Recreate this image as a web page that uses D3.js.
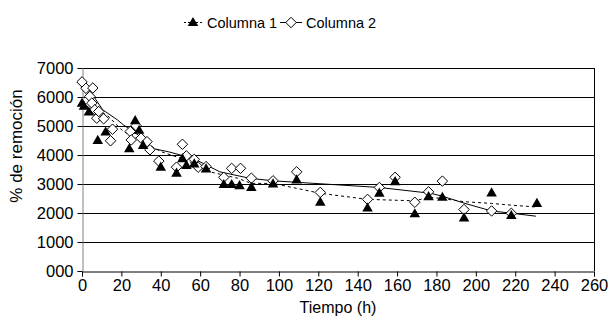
<!DOCTYPE html>
<html>
<head>
<meta charset="utf-8">
<script src="https://cdn.jsdelivr.net/npm/d3@7"></script>
<style>
  body { margin: 0; background: #fff; }
  text { font-family: "Liberation Sans", Arial, sans-serif; fill: #000; }
</style>
</head>
<body>
<div id="chart"></div>
<script>
// Columna 1 (triangulos)
const time1 = [0, 1, 3.5, 8, 12, 24, 27, 29, 31, 40, 48, 51, 53, 57, 63, 72, 76, 80, 86, 97, 109, 121, 145, 151, 159, 169, 176, 183, 194, 208, 218, 231];
const col1 = [5800, 5700, 5500, 4520, 4810, 4230, 5200, 4870, 4350, 3600, 3390, 3890, 3660, 3710, 3540, 3000, 3000, 2960, 2900, 3020, 3160, 2390, 2190, 2700, 3100, 1990, 2580, 2560, 1850, 2710, 1930, 2350];

// Columna 2 (rombos)
const time2 = [0, 2, 4, 5, 5.5, 6.5, 7.5, 8.5, 11, 14.5, 15.5, 24.5, 25, 27.5, 30, 33, 34.5, 39, 48, 51, 53, 57, 59, 63, 72, 76, 80.5, 86, 97, 109, 121, 145, 151, 159, 169, 176, 183, 194, 208, 218];
const col2 = [6520, 6300, 6020, 5790, 6310, 5560, 5270, 5500, 5250, 4490, 4890, 4810, 4520, 5010, 4580, 4460, 4180, 3790, 3580, 4370, 3970, 3850, 3580, 3600, 3230, 3540, 3540, 3200, 3110, 3420, 2710, 2470, 2880, 3230, 2370, 2730, 3100, 2120, 2070, 1990];

// lineas de tendencia
const trendTime1 = [2, 6, 12.5, 21, 28, 40, 50, 65, 79, 86, 97, 121, 145, 169, 176, 183, 194, 208, 218, 230];
const trend1 = [5700, 5550, 5390, 4810, 4580, 4120, 3890, 3420, 3200, 3020, 3020, 2680, 2470, 2420, 2540, 2500, 2390, 2330, 2270, 2210];

const trendTime2 = [3, 10.5, 18, 21, 28.5, 35.5, 44, 50, 58, 70, 85, 97, 151, 177, 183, 194.5, 208, 218.5, 230.5];
const trend2 = [6320, 5560, 5210, 5040, 4690, 4230, 4110, 4000, 3830, 3420, 3200, 3110, 2880, 2680, 2580, 2330, 2070, 1990, 1890];

const xTicks = d3.range(0, 261, 20);
const yTicks = d3.range(0, 7001, 1000);
const yTickLabels = ["000", "1000", "2000", "3000", "4000", "5000", "6000", "7000"];

const width = 614, height = 322;
const margin = { top: 68, right: 20, bottom: 51, left: 82 };

const svg = d3.select("#chart").append("svg")
  .attr("width", width)
  .attr("height", height);

const x = d3.scaleLinear([0, 260], [margin.left, width - margin.right]);
const y = d3.scaleLinear([0, 7000], [height - margin.bottom, margin.top]);

// grid
svg.append("g")
  .selectAll("line")
  .data(yTicks.filter(d => d > 0))
  .join("line")
    .attr("x1", margin.left)
    .attr("x2", width - margin.right)
    .attr("y1", d => Math.round(y(d)) + 0.5)
    .attr("y2", d => Math.round(y(d)) + 0.5)
    .attr("stroke", "#000");

// borde derecho
svg.append("line")
  .attr("x1", Math.round(x(260)) + 0.5)
  .attr("x2", Math.round(x(260)) + 0.5)
  .attr("y1", y(7000))
  .attr("y2", y(0))
  .attr("stroke", "#000");

// ejes
const xAxis = svg.append("g")
  .attr("transform", `translate(0, ${Math.round(y(0)) + 0.5})`)
  .call(d3.axisBottom(x).tickValues(xTicks).tickSize(5).tickPadding(3));
xAxis.select(".domain").attr("stroke", "#000");
xAxis.selectAll("text").attr("font-size", 16.5).attr("font-family", "Liberation Sans, Arial");

const yAxis = svg.append("g")
  .attr("transform", `translate(${Math.round(x(0)) + 0.5}, 0)`)
  .call(d3.axisLeft(y).tickValues(yTicks).tickFormat((d, i) => yTickLabels[i]).tickSize(5).tickPadding(4));
yAxis.select(".domain").attr("stroke", "#808080");
yAxis.selectAll("text").attr("font-size", 16.5).attr("font-family", "Liberation Sans, Arial");

// lineas
const line = d3.line().x(d => x(d[0])).y(d => y(d[1]));

svg.append("path")
  .datum(d3.zip(trendTime1, trend1))
  .attr("d", line)
  .attr("fill", "none")
  .attr("stroke", "#000")
  .attr("stroke-width", 1)
  .attr("stroke-dasharray", "3,3");

svg.append("path")
  .datum(d3.zip(trendTime2, trend2))
  .attr("d", line)
  .attr("fill", "none")
  .attr("stroke", "#000")
  .attr("stroke-width", 1);

// marcadores
const tri = d3.symbol().type(d3.symbolTriangle).size(48);
const dia = d3.symbol().type(d3.symbolDiamond2).size(70);

svg.append("g")
  .selectAll("path")
  .data(d3.zip(time2, col2))
  .join("path")
    .attr("d", dia)
    .attr("transform", d => `translate(${x(d[0])}, ${y(d[1])})`)
    .attr("fill", "#fff")
    .attr("stroke", "#000")
    .attr("stroke-width", 1);

svg.append("g")
  .selectAll("path")
  .data(d3.zip(time1, col1))
  .join("path")
    .attr("d", tri)
    .attr("transform", d => `translate(${x(d[0])}, ${y(d[1]) + 1})`)
    .attr("fill", "#000");

// leyenda
const legend = svg.append("g").attr("font-size", 14.5);
legend.append("line")
  .attr("x1", 184).attr("x2", 204).attr("y1", 22.5).attr("y2", 22.5)
  .attr("stroke", "#000").attr("stroke-dasharray", "2,2");
legend.append("path").attr("d", tri).attr("transform", "translate(193, 23)").attr("fill", "#000");
legend.append("text").attr("x", 207).attr("y", 28).text("Columna 1");
legend.append("line")
  .attr("x1", 280).attr("x2", 302).attr("y1", 22.5).attr("y2", 22.5)
  .attr("stroke", "#000");
legend.append("path").attr("d", dia).attr("transform", "translate(291, 22.5)")
  .attr("fill", "#fff").attr("stroke", "#000");
legend.append("text").attr("x", 306).attr("y", 28).text("Columna 2");

// titulos de ejes
svg.append("text")
  .attr("x", (margin.left + width - margin.right) / 2)
  .attr("y", 313)
  .attr("text-anchor", "middle")
  .attr("font-size", 16)
  .text("Tiempo (h)");

svg.append("text")
  .attr("transform", "translate(22, 146) rotate(-90)")
  .attr("text-anchor", "middle")
  .attr("font-size", 17)
  .text("% de remoción");
</script>
</body>
</html>
